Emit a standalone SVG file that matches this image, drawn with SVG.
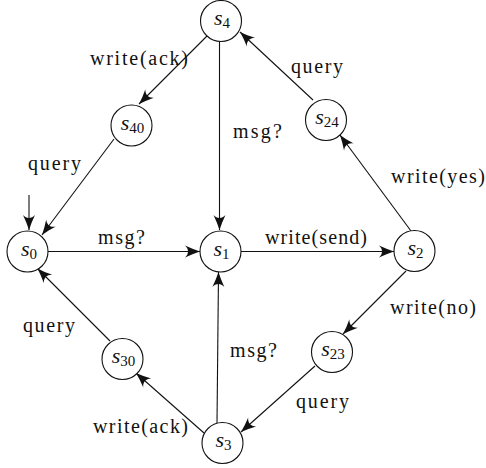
<svg xmlns="http://www.w3.org/2000/svg" width="486" height="468" viewBox="0 0 486 468">
  <defs>
    <!-- barbed arrowhead, tip at the path end -->
    <marker id="arrow" markerUnits="userSpaceOnUse" markerWidth="18" markerHeight="14" viewBox="-16 -7 18 14" refX="0" refY="0" orient="auto">
      <path d="M0,0 C-5,-1.6 -10,-3.6 -15,-6 C-11,-2.5 -11,2.5 -15,6 C-10,3.6 -5,1.6 0,0 Z" fill="#111"/>
    </marker>
  </defs>
  <style>
    .node circle { fill: #fff; stroke: #111; stroke-width: 1.1; }
    .node text { font-size: 22px; font-style: italic; fill: #111; text-anchor: middle; }
    .node text tspan { font-style: normal; font-size: 15px; }
    .edges line { stroke: #111; stroke-width: 1.1; marker-end: url(#arrow); }
    .lbl { font-size: 20px; fill: #111; }
  </style>

  <rect width="486" height="468" fill="#fff"/>

  <!-- transitions -->
  <g id="edges" class="edges">
    <line x1="29" y1="195" x2="29" y2="230"/>
    <line x1="207" y1="36" x2="139" y2="104"/>
    <line x1="114" y1="139" x2="42" y2="235"/>
    <line x1="219.5" y1="41" x2="219.5" y2="230"/>
    <line x1="313" y1="100" x2="240" y2="32"/>
    <line x1="411" y1="231" x2="340" y2="135"/>
    <line x1="48" y1="251.5" x2="200" y2="251.5"/>
    <line x1="241" y1="251.5" x2="394" y2="251.5"/>
    <line x1="406" y1="271" x2="343" y2="334"/>
    <line x1="315" y1="366" x2="241" y2="432"/>
    <line x1="217" y1="423" x2="218.5" y2="272"/>
    <line x1="204" y1="433" x2="136" y2="373"/>
    <line x1="110" y1="341" x2="37.5" y2="268.5"/>
  </g>

  <!-- transition labels -->
  <g id="labels" font-family="'Liberation Serif', 'Times New Roman', 'DejaVu Serif', serif">
    <text class="lbl" x="90" y="65" textLength="98" lengthAdjust="spacing">write(ack)</text>
    <text class="lbl" x="28" y="170" textLength="53" lengthAdjust="spacing">query</text>
    <text class="lbl" x="233" y="138" textLength="49" lengthAdjust="spacing">msg?</text>
    <text class="lbl" x="291" y="73" textLength="52" lengthAdjust="spacing">query</text>
    <text class="lbl" x="391" y="183" textLength="94" lengthAdjust="spacing">write(yes)</text>
    <text class="lbl" x="98" y="244" textLength="47" lengthAdjust="spacing">msg?</text>
    <text class="lbl" x="265" y="244" textLength="102" lengthAdjust="spacing">write(send)</text>
    <text class="lbl" x="390" y="314" textLength="86" lengthAdjust="spacing">write(no)</text>
    <text class="lbl" x="296" y="408" textLength="53" lengthAdjust="spacing">query</text>
    <text class="lbl" x="230" y="357" textLength="47" lengthAdjust="spacing">msg?</text>
    <text class="lbl" x="23" y="332" textLength="52" lengthAdjust="spacing">query</text>
    <text class="lbl" x="93" y="433" textLength="95" lengthAdjust="spacing">write(ack)</text>
  </g>

  <!-- states -->
  <g font-family="'Liberation Serif', 'Times New Roman', 'DejaVu Serif', serif">
    <g id="s4" class="node"><circle cx="221" cy="21" r="20.5"/><text x="222" y="25">s<tspan dy="3">4</tspan></text></g>
    <g id="s40" class="node"><circle cx="131.5" cy="125.5" r="20.5"/><text x="132.5" y="129.5">s<tspan dy="3">40</tspan></text></g>
    <g id="s24" class="node"><circle cx="326" cy="120" r="20.5"/><text x="327" y="124">s<tspan dy="3">24</tspan></text></g>
    <g id="s0" class="node"><circle cx="27.5" cy="251.5" r="20.5"/><text x="29" y="255.5">s<tspan dy="3">0</tspan></text></g>
    <g id="s1" class="node"><circle cx="220.5" cy="251.5" r="20.5"/><text x="221.5" y="255.5">s<tspan dy="3">1</tspan></text></g>
    <g id="s2" class="node"><circle cx="414.5" cy="251" r="20.5"/><text x="415.5" y="255">s<tspan dy="3">2</tspan></text></g>
    <g id="s23" class="node"><circle cx="332" cy="352" r="20.5"/><text x="333" y="356">s<tspan dy="3">23</tspan></text></g>
    <g id="s30" class="node"><circle cx="122.5" cy="359" r="20.5"/><text x="123.5" y="363">s<tspan dy="3">30</tspan></text></g>
    <g id="s3" class="node"><circle cx="222.5" cy="443" r="20.5"/><text x="223.5" y="447">s<tspan dy="3">3</tspan></text></g>
  </g>
</svg>
